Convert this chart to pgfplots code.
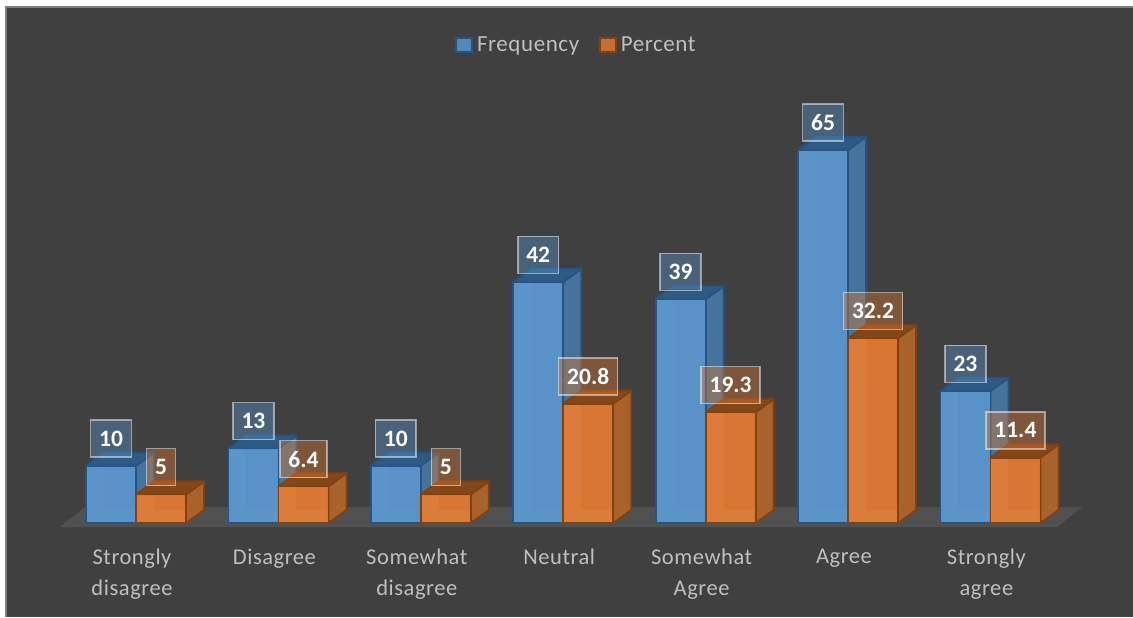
\documentclass[border=0pt]{standalone}
\usepackage{fontspec}
\setmainfont{Carlito}
\newfontfamily\labelfont[LetterSpace=2.5]{Carlito}
\usepackage{pgfplots}
\usepackage{pgfplotstable}
\pgfplotsset{compat=1.18}

\definecolor{panel}{RGB}{64,64,64}
\definecolor{panelrule}{RGB}{125,125,125}
\definecolor{floorgray}{RGB}{82,81,82}
\definecolor{labelgray}{RGB}{191,191,191}
\definecolor{bluefront}{RGB}{88,146,200}
\definecolor{blueside}{RGB}{70,115,155}
\definecolor{bluetop}{RGB}{46,90,132}
\definecolor{blueedge}{RGB}{36,85,132}
\definecolor{bluewall}{RGB}{110,165,215}
\definecolor{orangefront}{RGB}{217,118,50}
\definecolor{orangeside}{RGB}{170,98,45}
\definecolor{orangetop}{RGB}{130,72,28}
\definecolor{orangeedge}{RGB}{130,65,15}
\definecolor{orangewall}{RGB}{245,175,125}

\pgfplotstableread{
x freq pct
0 10 5
1 13 6.4
2 10 5
3 42 20.8
4 39 19.3
5 65 32.2
6 23 11.4
}\surveydata

% Depth of the box sides and width of a bar, in data units
\newcommand\depthx{0.1264}
\newcommand\depthy{2.265}
\newcommand\barw{0.3511}

% Inner, side and top faces of one box: left edge (category units), height, colour stem
\newcommand\boxfaces[3]{%
  \pgfmathsetmacro\xa{#1}%
  \pgfmathsetmacro\xb{#1+\barw}%
  \pgfmathsetmacro\xc{#1+\barw+\depthx}%
  \pgfmathsetmacro\xd{#1+\depthx}%
  \pgfmathsetmacro\yt{#2}%
  \pgfmathsetmacro\yu{#2+\depthy}%
  \addplot[forget plot, fill=#3front, draw=none] coordinates
    {(\xa,0) (\xa,\yt) (\xb,\yt) (\xb,0)} --cycle;
  \addplot[forget plot, fill=#3wall, draw=none] coordinates
    {(\xa,0) (\xd,\depthy) (\xd,\yu) (\xa,\yt)} --cycle;
  \addplot[forget plot, fill=#3wall, draw=none] coordinates
    {(\xa,0) (\xd,\depthy) (\xb,\depthy) (\xb,0)} --cycle;
  \addplot[forget plot, fill=#3side, draw=#3edge, line width=1.8pt, line join=round] coordinates
    {(\xb,0) (\xc,\depthy) (\xc,\yu) (\xb,\yt)} --cycle;
  \addplot[forget plot, fill=#3top, draw=#3edge, line width=1.8pt, line join=round] coordinates
    {(\xa,\yt) (\xd,\yu) (\xc,\yu) (\xb,\yt)} --cycle;
}

\begin{document}
\begin{tikzpicture}
  % panel and frame
  \fill[white] (0pt,0pt) rectangle (1133pt,617pt);
  \fill[panelrule] (5pt,0pt) rectangle (1133pt,611pt);
  \fill[panel] (7pt,0pt) rectangle (1133pt,609pt);
\begin{axis}[
  at={(0pt,0pt)}, anchor=south west,
  scale only axis,
  width=1133pt, height=617pt,
  xmin=-0.9551, xmax=7.0014,
  ymin=-16.376, ymax=91.115,
  axis line style={draw=none},
  major tick length=0pt,
  ytick=\empty,
  xtick={0,1,2,3,4,5,6},
  xticklabels={Strongly\\disagree, Disagree, Somewhat\\disagree, Neutral, Somewhat\\Agree, Agree, Strongly\\agree},
  x tick label style={align=center, anchor=north, yshift=72pt, xshift=-4pt,
    font=\labelfont\fontsize{22.5}{31.5}\selectfont, text=labelgray},
  legend style={at={(0.5088,0.9270)}, anchor=center, draw=none, fill=none,
    legend columns=2, font=\labelfont\fontsize{23}{26}\selectfont, text=labelgray,
    /tikz/every even column/.append style={column sep=18pt}},
  legend image code/.code={%
    \draw[#1, line width=1.5pt] (0pt,-7pt) rectangle (16pt,7pt);
    \path (18pt,0pt);},
  /pgf/number format/assume math mode=true,
  every node near coord/.append style={
    font=\fontsize{23.5}{26}\bfseries\selectfont, text=white, anchor=south, yshift=8pt,
    draw=white, draw opacity=0.5, fill opacity=0.42, text opacity=1,
    line width=1.5pt, minimum height=37pt, inner xsep=8.5pt, inner ysep=0pt},
]
  % floor of the chart
  \addplot[forget plot, fill=floorgray, draw=none] coordinates
    {(-0.534,-0.697) (-0.358,2.787) (6.643,2.787) (6.468,-0.697)} --cycle;

  % frequency boxes
  \boxfaces{-0.3511}{10}{blue}
  \boxfaces{0.6489}{13}{blue}
  \boxfaces{1.6489}{10}{blue}
  \boxfaces{2.6489}{42}{blue}
  \boxfaces{3.6489}{39}{blue}
  \boxfaces{4.6489}{65}{blue}
  \boxfaces{5.6489}{23}{blue}
  \addplot[ybar, bar width=50pt, bar shift=-25pt, fill=bluefront, fill opacity=0.88,
    draw=blueedge, line width=1.8pt, nodes near coords, point meta=y,
    every node near coord/.append style={xshift=-25pt, fill=bluefront, fill opacity=0.42}]
    table[x=x, y=freq] {\surveydata};
  \addlegendentry{Frequency}

  % percent boxes
  \boxfaces{0}{5}{orange}
  \boxfaces{1}{6.4}{orange}
  \boxfaces{2}{5}{orange}
  \boxfaces{3}{20.8}{orange}
  \boxfaces{4}{19.3}{orange}
  \boxfaces{5}{32.2}{orange}
  \boxfaces{6}{11.4}{orange}
  \addplot[ybar, bar width=50pt, bar shift=25pt, fill=orangefront, fill opacity=0.88,
    draw=orangeedge, line width=1.8pt, nodes near coords, point meta=y,
    every node near coord/.append style={xshift=25pt, fill=orangefront, fill opacity=0.42}]
    table[x=x, y=pct] {\surveydata};
  \addlegendentry{Percent}
\end{axis}
\end{tikzpicture}
\end{document}
